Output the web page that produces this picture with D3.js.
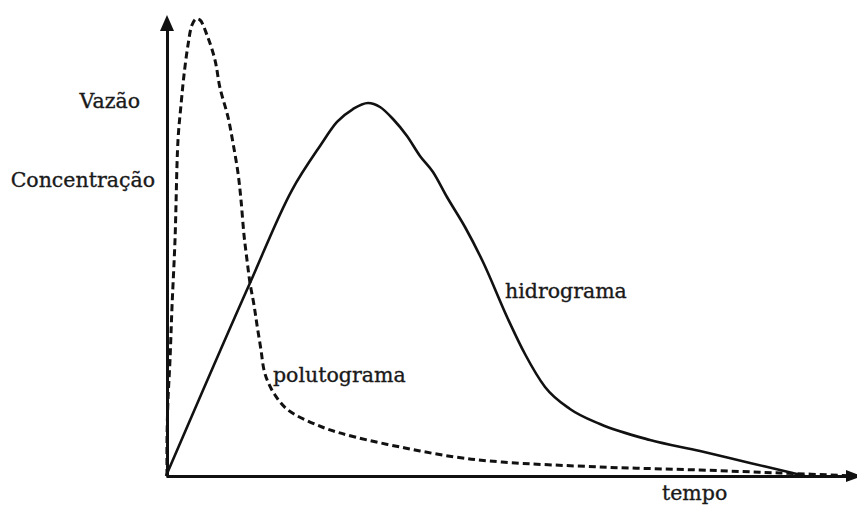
<!DOCTYPE html>
<html><head><meta charset="utf-8">
<script src="https://cdn.jsdelivr.net/npm/d3@7"></script>
<style>body{margin:0;background:#fff}svg{display:block}text{font-family:"DejaVu Serif",serif;fill:#1a1a1a;stroke:#1a1a1a;stroke-width:0.35}</style>
</head><body><svg id="c" width="857" height="512"></svg>
<script>
// time (arbitrary units) and values (% of maximum)
const hidroT = [0,1.235,1.853,2.265,2.515,2.75,2.971,3.147,3.338,3.544,3.735,3.926,4.132,4.397,4.662,5.029,5.279,5.574,5.941,6.382,7.118,7.853,8.588,9.029,9.397];
const hidroV = [0,41.96,62.17,71.74,76.96,79.78,81.09,80.22,77.61,73.91,69.57,66.09,60.65,54.13,46.52,34.13,26.52,19.35,14.57,11.30,7.83,5.43,2.83,1.30,0];
const poluT = [0.0147,0.0147,0.0294,0.0588,0.0882,0.1324,0.1765,0.2206,0.2647,0.3235,0.3824,0.4412,0.5,0.6029,0.7206,0.7941,0.9118,0.9853,1.0588,1.1029,1.1471,1.1912,1.2353,1.2941,1.3382,1.3971,1.4412,1.5,1.6029,1.7941,2.2941,2.7794,3.5147,4.25,4.9412,6.3824,7.8529,9.0294,10.16];
const poluV = [0,7.83,16.52,25.22,36.74,51.30,73.04,80.65,87.17,93.70,98.04,99.35,99.13,95.87,90.43,84.35,78.04,72.39,65.87,60.0,52.39,46.96,41.96,37.17,32.83,27.39,23.04,20.43,17.61,14.35,10.65,8.48,6.09,4.13,3.04,1.96,1.30,0.65,0];
const yLabels = ["Vazão","Concentração"];
const xLabel = "tempo";
const seriesLabels = ["hidrograma","polutograma"];

const svg = d3.select("#c");
const x = d3.scaleLinear().domain([0,10]).range([166,846]);
const y = d3.scaleLinear().domain([0,100]).range([476,16]);

const lineSolid = d3.line().x(d=>x(d[0])).y(d=>y(d[1])).curve(d3.curveMonotoneX);
const lineDash = d3.line().x(d=>x(d[0])).y(d=>y(d[1])).curve(d3.curveCatmullRom.alpha(0.5));

// axes
svg.append("g").attr("transform","translate(0,476)")
  .call(d3.axisBottom(x.copy().range([166,852])).ticks(0).tickSizeOuter(0))
  .call(g=>g.select(".domain").attr("stroke","#111").attr("stroke-width",3));
svg.append("g").attr("transform","translate(167,0)")
  .call(d3.axisLeft(y.copy().range([476,28])).ticks(0).tickSizeOuter(0))
  .call(g=>g.select(".domain").attr("stroke","#111").attr("stroke-width",3));
// arrowheads
svg.append("path").attr("d","M167,15 L160,31 L174,31 Z").attr("fill","#111");
svg.append("path").attr("d","M862,476 L846,470 L846,482 Z").attr("fill","#111");

// polutograma (dashed)
svg.append("path").datum(poluT.map((t,i)=>[t,poluV[i]]))
  .attr("d",lineDash).attr("fill","none").attr("stroke","#111")
  .attr("stroke-width",3).attr("stroke-dasharray","7,4");
// hidrograma (solid)
svg.append("path").datum(hidroT.map((t,i)=>[t,hidroV[i]]))
  .attr("d",lineSolid).attr("fill","none").attr("stroke","#111")
  .attr("stroke-width",2.6);

const fs = 20.5;
svg.append("text").attr("x",140).attr("y",108).attr("text-anchor","end").attr("font-size",fs).text(yLabels[0]);
svg.append("text").attr("x",155).attr("y",187).attr("text-anchor","end").attr("font-size",fs).text(yLabels[1]);
svg.append("text").attr("x",662).attr("y",500).attr("font-size",fs).text(xLabel);
svg.append("text").attr("x",505).attr("y",298).attr("font-size",fs).text(seriesLabels[0]);
svg.append("text").attr("x",273).attr("y",382).attr("font-size",fs).text(seriesLabels[1]);
</script></body></html>
